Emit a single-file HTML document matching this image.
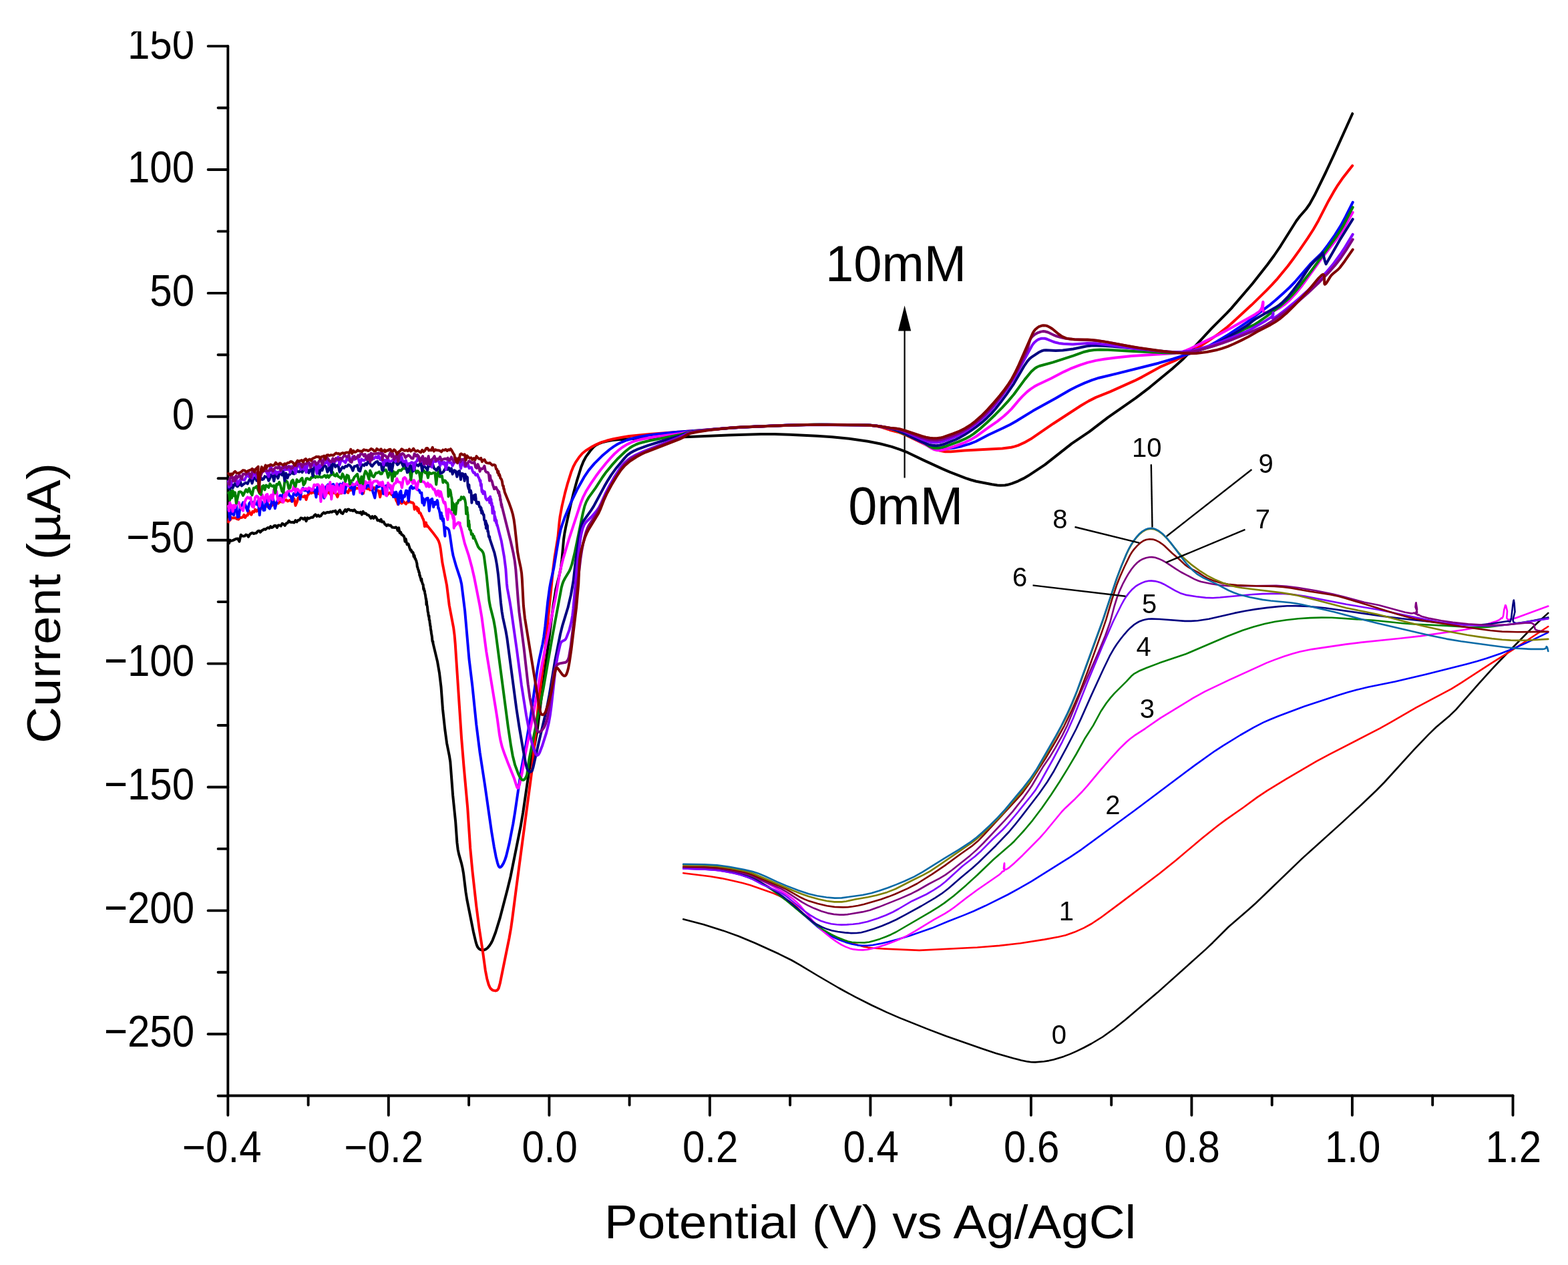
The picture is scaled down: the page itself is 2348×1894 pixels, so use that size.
<!DOCTYPE html>
<html><head><meta charset="utf-8"><title>CV plot</title>
<style>
html,body{margin:0;padding:0;background:#fff;}
body{width:2348px;height:1894px;overflow:hidden;}
svg{display:block;}
text{font-family:"Liberation Sans",Arial,sans-serif;fill:#000;}
.inl{font-family:"DejaVu Sans","Liberation Sans",sans-serif;}
</style></head><body>
<svg width="2348" height="1894" viewBox="0 0 2348 1894" xmlns="http://www.w3.org/2000/svg">
<rect width="2348" height="1894" fill="#fff"/>

<g stroke="#000" stroke-width="3.9" stroke-linecap="round" fill="none"><line x1="341.3" y1="69.1" x2="341.3" y2="1640.5" /><line x1="341.3" y1="1640.5" x2="2265.5" y2="1640.5" /><line x1="326.6" y1="1640.8" x2="341.3" y2="1640.8" /><line x1="311.6" y1="1548.3" x2="341.3" y2="1548.3" /><line x1="326.6" y1="1455.8" x2="341.3" y2="1455.8" /><line x1="311.6" y1="1363.4" x2="341.3" y2="1363.4" /><line x1="326.6" y1="1270.9" x2="341.3" y2="1270.9" /><line x1="311.6" y1="1178.5" x2="341.3" y2="1178.5" /><line x1="326.6" y1="1086.0" x2="341.3" y2="1086.0" /><line x1="311.6" y1="993.6" x2="341.3" y2="993.6" /><line x1="326.6" y1="901.1" x2="341.3" y2="901.1" /><line x1="311.6" y1="808.7" x2="341.3" y2="808.7" /><line x1="326.6" y1="716.2" x2="341.3" y2="716.2" /><line x1="311.6" y1="623.8" x2="341.3" y2="623.8" /><line x1="326.6" y1="531.3" x2="341.3" y2="531.3" /><line x1="311.6" y1="438.9" x2="341.3" y2="438.9" /><line x1="326.6" y1="346.4" x2="341.3" y2="346.4" /><line x1="311.6" y1="254.0" x2="341.3" y2="254.0" /><line x1="326.6" y1="161.5" x2="341.3" y2="161.5" /><line x1="311.6" y1="69.1" x2="341.3" y2="69.1" /><line x1="341.3" y1="1640.5" x2="341.3" y2="1669.7" /><line x1="461.6" y1="1640.5" x2="461.6" y2="1654.5" /><line x1="581.8" y1="1640.5" x2="581.8" y2="1669.7" /><line x1="702.1" y1="1640.5" x2="702.1" y2="1654.5" /><line x1="822.4" y1="1640.5" x2="822.4" y2="1669.7" /><line x1="942.6" y1="1640.5" x2="942.6" y2="1654.5" /><line x1="1062.9" y1="1640.5" x2="1062.9" y2="1669.7" /><line x1="1183.1" y1="1640.5" x2="1183.1" y2="1654.5" /><line x1="1303.4" y1="1640.5" x2="1303.4" y2="1669.7" /><line x1="1423.7" y1="1640.5" x2="1423.7" y2="1654.5" /><line x1="1543.9" y1="1640.5" x2="1543.9" y2="1669.7" /><line x1="1664.2" y1="1640.5" x2="1664.2" y2="1654.5" /><line x1="1784.4" y1="1640.5" x2="1784.4" y2="1669.7" /><line x1="1904.7" y1="1640.5" x2="1904.7" y2="1654.5" /><line x1="2024.9" y1="1640.5" x2="2024.9" y2="1669.7" /><line x1="2145.2" y1="1640.5" x2="2145.2" y2="1654.5" /><line x1="2265.5" y1="1640.5" x2="2265.5" y2="1669.7" /></g>
<text transform="translate(291.0,87.8) scale(1.0,1.124)" text-anchor="end" font-size="60" >150</text><text transform="translate(291.0,272.7) scale(1.0,1.124)" text-anchor="end" font-size="60" >100</text><text transform="translate(291.0,457.6) scale(1.0,1.124)" text-anchor="end" font-size="60" >50</text><text transform="translate(291.0,642.5) scale(1.0,1.124)" text-anchor="end" font-size="60" >0</text><text transform="translate(291.0,827.4) scale(1.0,1.124)" text-anchor="end" font-size="60" >−50</text><text transform="translate(291.0,1012.3) scale(1.0,1.124)" text-anchor="end" font-size="60" >−100</text><text transform="translate(291.0,1197.2) scale(1.0,1.124)" text-anchor="end" font-size="60" >−150</text><text transform="translate(291.0,1382.1) scale(1.0,1.124)" text-anchor="end" font-size="60" >−200</text><text transform="translate(291.0,1567.0) scale(1.0,1.124)" text-anchor="end" font-size="60" >−250</text><text transform="translate(332.3,1739.6) scale(1.0,1.1)" text-anchor="middle" font-size="60" >−0.4</text><text transform="translate(574.8,1739.6) scale(1.0,1.1)" text-anchor="middle" font-size="60" >−0.2</text><text transform="translate(823.1,1739.6) scale(1.0,1.1)" text-anchor="middle" font-size="60" >0.0</text><text transform="translate(1063.7,1739.6) scale(1.0,1.1)" text-anchor="middle" font-size="60" >0.2</text><text transform="translate(1304.2,1739.6) scale(1.0,1.1)" text-anchor="middle" font-size="60" >0.4</text><text transform="translate(1544.7,1739.6) scale(1.0,1.1)" text-anchor="middle" font-size="60" >0.6</text><text transform="translate(1785.2,1739.6) scale(1.0,1.1)" text-anchor="middle" font-size="60" >0.8</text><text transform="translate(2025.7,1739.6) scale(1.0,1.1)" text-anchor="middle" font-size="60" >1.0</text><text transform="translate(2266.3,1739.6) scale(1.0,1.1)" text-anchor="middle" font-size="60" >1.2</text>
<text transform="translate(905.1,1853.6) scale(1.048,1.0)" text-anchor="start" font-size="71.2" >Potential (V) vs Ag/AgCl</text>
<text transform="translate(89.8,1113) rotate(-90) scale(1.0795,1)" font-size="70.5">Current (µA)</text>
<text transform="translate(1236.0,420.9) scale(1.0,1.0)" text-anchor="start" font-size="76" >10mM</text>
<text transform="translate(1270.2,784.9) scale(1.0,1.03)" text-anchor="start" font-size="77.5" >0mM</text>
<line x1="1354.6" y1="490" x2="1354.6" y2="715.5" stroke="#000" stroke-width="2.2"/>
<polygon points="1354.6,457.4 1345,495.4 1364.2,495.4" fill="#000"/>
<g fill="none" stroke-width="2.6" stroke-linejoin="round" stroke-linecap="round"><path d="M1023.2,1376.3L1053.8,1384.3L1082.9,1393.4L1106.1,1401.7L1130.7,1412.0L1166.5,1428.3L1185.1,1437.5L1196.3,1443.9L1224.8,1461.0L1256.5,1479.5L1280.7,1492.7L1305.2,1505.0L1327.3,1515.4L1346.8,1523.9L1390.0,1541.1L1416.6,1551.2L1471.0,1570.3L1491.2,1577.0L1517.5,1584.6L1529.0,1587.4L1538.6,1589.4L1544.3,1590.2L1550.1,1590.4L1563.4,1589.3L1570.6,1588.1L1577.7,1586.5L1592.7,1581.9L1602.6,1578.1L1612.1,1573.9L1623.1,1568.5L1634.4,1562.5L1651.2,1552.5L1668.3,1540.2L1684.3,1527.6L1733.2,1486.1L1805.2,1421.6L1816.2,1411.2L1839.4,1388.0L1869.8,1361.8L1880.7,1352.0L1949.9,1285.4L2009.0,1232.1L2040.8,1202.8L2061.5,1183.0L2072.8,1171.5L2117.7,1122.2L2139.3,1099.6L2150.2,1089.0L2171.0,1071.4L2180.1,1062.6L2214.6,1023.4L2233.6,1002.4L2246.2,989.0L2292.4,941.9L2302.8,932.0L2318.3,917.9" stroke="#000000"/><path d="M1023.2,1307.2L1063.8,1312.3L1080.6,1315.1L1096.5,1318.4L1111.7,1322.0L1123.3,1325.3L1158.3,1337.6L1166.0,1340.9L1174.4,1345.2L1181.7,1349.4L1187.6,1353.4L1193.9,1358.8L1206.1,1371.2L1216.8,1381.1L1228.3,1390.6L1236.6,1396.2L1241.7,1398.9L1248.9,1402.2L1268.5,1409.6L1286.7,1415.6L1293.6,1417.4L1299.5,1418.6L1307.3,1419.5L1325.1,1420.6L1376.7,1422.9L1463.4,1418.5L1496.6,1415.9L1528.2,1412.2L1564.0,1406.6L1584.9,1402.8L1595.8,1400.2L1609.1,1395.6L1623.0,1389.4L1634.7,1383.0L1647.2,1374.7L1676.6,1352.9L1736.1,1308.0L1761.3,1287.7L1799.8,1255.2L1822.6,1237.0L1834.8,1227.9L1861.5,1209.2L1882.4,1193.9L1897.4,1183.8L1925.2,1166.9L1971.7,1139.7L1991.4,1129.2L2066.6,1090.3L2081.8,1081.9L2120.7,1059.3L2173.5,1031.3L2188.8,1021.8L2232.2,993.6L2267.6,971.4L2318.3,938.0" stroke="#ff0000"/><path d="M1023.2,1300.5L1061.7,1301.9L1072.5,1302.8L1084.8,1304.5L1096.7,1306.6L1107.4,1309.2L1118.0,1312.7L1128.1,1316.8L1138.0,1321.7L1148.8,1327.6L1160.2,1334.7L1169.4,1341.2L1183.2,1352.3L1224.6,1388.0L1234.6,1395.7L1241.6,1400.0L1249.1,1403.9L1257.5,1407.6L1266.6,1410.9L1275.5,1413.5L1283.5,1415.1L1291.3,1415.9L1299.1,1415.8L1306.9,1415.0L1318.0,1412.9L1329.9,1410.3L1344.0,1406.6L1361.7,1401.3L1395.5,1389.6L1419.7,1379.5L1443.7,1370.1L1457.9,1364.2L1475.2,1356.3L1509.1,1339.5L1525.7,1330.4L1544.1,1319.8L1602.7,1283.1L1619.5,1271.8L1699.3,1213.3L1789.5,1145.6L1819.4,1124.3L1830.9,1116.8L1857.5,1100.5L1877.4,1089.1L1891.9,1081.6L1901.3,1077.5L1914.8,1072.0L1952.8,1057.7L2003.6,1040.9L2018.2,1036.4L2031.8,1032.8L2048.4,1028.7L2089.2,1020.5L2134.9,1009.7L2196.5,994.2L2212.0,990.0L2225.9,985.8L2246.5,978.8L2267.0,970.8L2285.9,962.4L2317.9,947.2" stroke="#0000ff"/><path d="M1023.2,1300.5L1058.3,1301.7L1069.4,1302.5L1077.8,1303.5L1088.6,1305.3L1101.2,1307.8L1128.1,1313.8L1135.2,1316.1L1147.4,1321.9L1165.4,1331.6L1177.6,1338.9L1186.9,1345.5L1192.4,1350.2L1198.4,1356.2L1217.8,1379.5L1229.4,1391.4L1236.8,1398.0L1244.3,1404.0L1251.8,1409.4L1259.7,1414.3L1265.8,1417.4L1272.3,1419.9L1278.3,1421.4L1285.3,1422.3L1292.2,1422.4L1299.1,1421.7L1307.1,1420.1L1315.9,1417.8L1326.6,1414.2L1339.1,1409.5L1349.4,1405.2L1358.6,1400.8L1370.3,1394.2L1398.2,1377.1L1414.9,1367.8L1422.0,1363.4L1428.6,1358.8L1447.3,1344.2L1463.6,1332.2L1496.2,1309.8L1498.9,1307.4L1501.2,1304.7L1503.3,1304.2L1504.0,1303.0L1504.0,1302.2L1503.1,1300.9L1503.0,1300.0L1503.7,1293.4L1504.1,1292.4L1504.1,1300.0L1504.4,1301.2L1505.1,1301.9L1506.0,1302.0L1507.5,1301.4L1511.4,1298.8L1519.3,1291.9L1531.2,1280.7L1557.2,1254.4L1565.5,1245.0L1589.8,1215.5L1595.4,1209.7L1609.8,1196.2L1620.3,1185.5L1628.4,1176.4L1647.6,1153.3L1662.2,1136.6L1676.6,1120.9L1687.0,1110.7L1692.8,1105.8L1698.3,1101.7L1715.0,1090.8L1737.6,1075.1L1786.2,1045.4L1804.3,1035.4L1841.0,1017.9L1897.0,992.4L1909.3,987.6L1922.8,982.8L1935.5,978.7L1946.4,975.8L1964.6,972.1L2015.4,964.6L2037.6,961.9L2097.0,955.8L2126.9,952.4L2190.3,943.3L2206.1,940.4L2217.3,937.5L2239.5,930.6L2244.8,928.3L2247.0,926.6L2248.2,925.3L2249.4,925.6L2250.5,923.6L2251.2,921.4L2252.3,912.8L2254.2,906.2L2254.8,906.5L2255.3,907.9L2257.0,915.0L2256.3,925.0L2257.1,926.8L2257.9,927.4L2259.6,927.7L2264.0,927.1L2270.8,925.0L2318.3,907.5" stroke="#ff00ff"/><path d="M1023.2,1299.0L1057.1,1300.1L1067.2,1300.8L1076.7,1301.9L1088.6,1303.8L1102.2,1306.6L1114.3,1309.7L1123.6,1312.7L1129.0,1315.0L1134.6,1318.1L1146.7,1325.9L1158.3,1333.9L1175.9,1347.1L1201.3,1368.1L1223.1,1385.3L1233.7,1392.7L1244.6,1399.0L1253.4,1403.2L1263.5,1407.3L1269.9,1409.5L1275.7,1410.7L1283.2,1411.3L1294.4,1411.4L1301.5,1410.5L1309.0,1408.6L1317.5,1405.9L1326.6,1402.5L1334.3,1399.2L1341.7,1395.5L1393.4,1365.4L1405.5,1357.9L1414.0,1352.1L1428.3,1341.2L1446.7,1325.4L1463.3,1310.3L1487.8,1286.8L1513.8,1264.2L1519.1,1259.2L1533.9,1243.0L1546.2,1228.3L1560.2,1209.8L1574.1,1189.8L1586.8,1170.3L1599.2,1150.1L1611.4,1129.5L1624.2,1106.3L1637.1,1086.1L1648.5,1065.0L1656.5,1053.0L1662.8,1044.9L1669.0,1037.8L1686.9,1020.1L1694.1,1012.3L1698.6,1008.6L1705.4,1004.8L1716.7,1000.0L1736.2,992.6L1776.3,979.0L1837.6,952.8L1860.8,943.7L1877.2,938.5L1893.8,934.1L1909.5,930.8L1926.4,928.2L1944.3,926.3L1961.6,925.1L1978.9,924.6L1994.3,924.8L2057.2,928.8L2100.6,933.2L2117.0,934.5L2166.1,936.9L2199.0,939.0L2214.5,939.4L2227.2,938.9L2240.1,937.5L2271.2,933.2L2318.3,926.0" stroke="#008000"/><path d="M1023.2,1299.7L1056.0,1300.6L1074.6,1302.1L1086.8,1303.8L1096.7,1305.6L1106.4,1307.9L1115.1,1310.7L1126.3,1315.0L1138.0,1320.7L1150.6,1327.7L1162.8,1335.5L1171.3,1341.5L1181.6,1349.6L1217.1,1380.0L1223.1,1384.0L1230.8,1388.0L1238.4,1391.1L1245.5,1393.2L1254.6,1395.0L1265.2,1396.4L1274.5,1397.1L1282.5,1397.0L1289.4,1396.2L1296.1,1394.6L1308.4,1390.7L1320.8,1386.2L1331.5,1381.8L1341.9,1377.0L1354.8,1370.2L1379.7,1356.5L1400.3,1344.3L1409.8,1338.2L1420.2,1330.3L1437.7,1314.9L1456.3,1299.4L1465.5,1291.3L1491.2,1266.2L1510.9,1245.5L1518.7,1236.2L1530.1,1221.9L1556.0,1188.2L1568.2,1170.8L1577.4,1155.8L1597.2,1119.2L1611.5,1091.5L1618.3,1076.9L1634.3,1040.9L1652.5,1001.2L1661.7,982.2L1667.6,971.8L1672.5,964.3L1678.0,956.8L1683.6,949.8L1689.0,943.7L1693.3,939.4L1697.7,935.7L1702.5,932.5L1706.8,930.2L1711.5,928.5L1715.6,927.5L1719.8,926.8L1724.8,926.6L1736.3,927.0L1774.2,929.9L1783.5,929.9L1793.8,929.2L1810.3,926.8L1848.7,917.9L1864.6,914.8L1880.5,912.1L1897.5,909.9L1914.4,908.1L1927.4,907.3L1940.5,907.1L1960.9,908.0L1984.1,910.2L2070.5,922.6L2103.9,926.8L2140.1,930.7L2161.1,932.7L2191.9,934.9L2206.8,935.5L2218.8,935.3L2232.3,934.0L2256.4,930.2L2258.2,930.1L2261.2,931.0L2262.4,927.7L2263.2,924.2L2265.4,905.7L2266.4,899.5L2266.8,898.5L2267.6,903.3L2268.5,916.0L2265.9,926.1L2265.6,928.5L2266.0,930.5L2266.5,931.3L2268.2,932.5L2270.6,933.0L2273.5,933.0L2282.5,932.0L2294.6,929.6L2318.3,924.4" stroke="#000080"/><path d="M1023.2,1300.5L1057.1,1301.6L1075.7,1303.2L1087.5,1305.2L1099.1,1307.6L1110.8,1310.6L1119.8,1313.4L1127.3,1316.6L1141.5,1324.4L1160.8,1332.6L1171.1,1337.9L1176.3,1341.2L1181.2,1344.9L1204.1,1363.8L1213.6,1370.4L1222.0,1375.4L1229.0,1378.7L1236.7,1381.3L1244.7,1383.2L1252.8,1384.3L1259.9,1384.6L1268.1,1384.4L1277.2,1383.7L1286.0,1382.7L1298.8,1379.9L1314.9,1374.8L1326.7,1370.3L1337.1,1365.5L1345.3,1361.0L1365.5,1349.2L1387.2,1339.0L1398.1,1332.7L1407.3,1326.7L1415.5,1320.3L1441.3,1296.7L1460.0,1282.3L1469.0,1274.2L1486.4,1256.5L1501.7,1242.0L1509.2,1233.9L1520.9,1220.0L1544.4,1191.0L1550.6,1182.9L1556.2,1173.8L1576.7,1137.0L1590.6,1110.8L1598.9,1093.8L1607.0,1075.4L1628.5,1021.2L1651.0,966.9L1666.9,930.5L1679.0,906.0L1683.3,898.1L1686.5,893.1L1690.7,887.6L1695.6,882.2L1700.2,878.2L1704.6,875.4L1710.1,872.6L1715.0,870.8L1720.0,869.8L1724.1,869.6L1729.3,870.1L1734.3,871.2L1738.2,872.5L1742.9,874.7L1759.4,884.2L1768.6,888.6L1776.6,890.9L1791.5,893.3L1805.4,894.9L1816.1,895.2L1826.9,894.5L1875.9,890.0L1890.5,889.1L1915.0,888.8L1925.2,889.2L1935.4,890.0L1953.3,892.6L2016.0,904.8L2063.6,912.7L2152.3,931.0L2166.2,933.1L2180.5,934.7L2197.0,936.0L2214.5,936.7L2229.1,937.0L2241.1,936.6L2253.5,935.6L2266.8,934.1L2318.3,926.4" stroke="#8000ff"/><path d="M1023.2,1298.3L1057.1,1299.3L1075.7,1300.7L1087.5,1302.3L1099.1,1304.4L1111.7,1307.2L1119.9,1309.4L1127.5,1312.2L1140.5,1318.3L1159.8,1326.2L1169.4,1330.5L1179.1,1336.1L1201.2,1350.9L1209.3,1355.3L1218.7,1359.8L1229.9,1364.2L1239.3,1367.1L1248.6,1368.9L1257.4,1369.6L1263.2,1369.6L1269.1,1369.1L1291.5,1365.4L1302.7,1362.7L1315.9,1358.1L1347.8,1345.4L1365.3,1337.7L1374.4,1333.0L1390.9,1323.5L1407.0,1315.1L1415.7,1309.9L1425.5,1302.7L1452.8,1280.9L1462.2,1272.6L1472.9,1262.0L1504.8,1228.1L1516.4,1215.1L1532.6,1194.6L1539.7,1184.6L1545.4,1176.0L1561.6,1148.6L1572.6,1132.4L1580.3,1119.6L1590.6,1101.4L1598.3,1085.7L1617.4,1039.0L1644.6,976.9L1655.1,951.8L1662.2,932.0L1668.7,907.5L1672.6,895.0L1676.7,884.4L1681.8,873.3L1686.1,865.3L1690.3,858.2L1694.3,852.3L1698.6,846.9L1702.9,842.5L1706.9,839.4L1711.3,836.9L1716.1,835.2L1721.0,834.2L1724.9,834.1L1729.8,834.8L1734.7,836.4L1740.3,838.9L1746.6,842.3L1761.3,852.2L1768.3,856.5L1788.6,867.1L1794.2,869.5L1798.7,871.0L1814.5,874.3L1827.6,876.3L1839.3,877.3L1852.2,877.5L1911.2,876.9L1926.4,877.8L1944.3,880.0L1971.2,884.5L1996.0,889.5L2012.3,893.5L2042.9,901.7L2064.5,906.1L2104.0,916.7L2113.2,918.4L2115.6,918.3L2117.7,917.5L2119.5,919.1L2121.0,918.6L2121.8,917.8L2122.1,916.8L2121.6,914.2L2119.5,908.9L2120.1,903.2L2120.5,902.3L2122.0,912.0L2122.0,913.0L2120.3,917.1L2120.3,918.2L2120.8,919.2L2121.9,920.2L2123.8,921.2L2124.3,920.2L2126.3,921.7L2129.3,923.0L2140.5,925.9L2158.3,929.3L2175.7,931.9L2198.5,934.2L2219.6,935.6L2236.0,936.0L2256.2,935.5L2284.0,932.8L2292.3,932.8L2294.5,933.3L2296.6,934.7L2297.5,936.6L2298.5,941.6L2300.0,943.0L2302.6,943.9L2305.9,944.6L2318.3,946.0" stroke="#800080"/><path d="M1023.2,1297.5L1056.0,1298.0L1074.6,1299.1L1095.0,1301.9L1116.2,1306.3L1126.6,1309.7L1141.5,1316.3L1168.3,1327.0L1177.7,1331.6L1199.2,1343.8L1204.7,1346.4L1211.5,1349.1L1224.6,1353.1L1238.3,1356.3L1249.6,1357.9L1262.2,1358.4L1269.1,1358.2L1276.9,1357.3L1284.6,1356.0L1293.5,1354.0L1319.3,1346.4L1330.4,1342.6L1340.2,1338.8L1359.0,1330.4L1373.3,1323.0L1395.8,1308.9L1415.0,1295.9L1437.6,1279.3L1456.3,1266.1L1464.3,1259.3L1473.5,1249.9L1523.9,1195.3L1531.8,1186.3L1541.4,1173.0L1565.9,1135.1L1582.2,1107.5L1593.6,1086.8L1605.3,1062.8L1616.4,1037.4L1629.0,1004.5L1650.8,943.9L1656.4,927.3L1665.3,897.2L1672.1,876.3L1677.0,863.7L1683.9,848.2L1692.0,831.6L1695.1,826.5L1698.2,822.4L1702.9,817.1L1708.0,812.5L1712.0,809.8L1716.5,808.0L1721.4,807.2L1726.3,807.6L1731.1,809.1L1735.7,811.4L1740.0,814.3L1744.0,817.5L1755.2,828.2L1765.5,837.0L1774.3,845.4L1778.4,848.5L1782.8,851.2L1794.0,856.9L1803.9,863.5L1809.1,866.3L1818.8,870.1L1829.0,872.9L1839.3,874.8L1852.2,876.0L1880.6,877.3L1908.2,877.9L1921.4,878.9L1933.3,880.5L1961.2,885.5L1992.0,890.3L2004.0,892.8L2015.5,895.9L2062.4,910.2L2092.2,919.6L2112.0,925.0L2123.0,927.4L2135.0,929.6L2195.0,939.0L2231.8,944.0L2249.3,945.6L2272.3,946.2L2318.3,945.9" stroke="#800000"/><path d="M1023.2,1295.0L1054.8,1295.8L1073.6,1297.0L1092.8,1299.6L1113.5,1303.7L1120.9,1305.6L1127.5,1307.8L1188.4,1333.8L1199.8,1338.3L1210.5,1341.9L1225.6,1346.3L1238.3,1349.0L1249.6,1350.4L1260.3,1350.4L1267.2,1349.5L1280.8,1346.5L1299.7,1343.2L1312.4,1340.4L1328.4,1335.9L1340.9,1331.0L1366.3,1318.0L1382.8,1309.9L1392.4,1304.6L1404.1,1296.9L1454.6,1262.2L1462.1,1256.4L1469.7,1249.8L1480.5,1239.6L1492.3,1227.9L1503.7,1215.5L1527.7,1187.3L1540.7,1171.6L1545.8,1164.4L1554.1,1151.0L1568.8,1125.3L1584.7,1096.5L1595.1,1076.4L1602.6,1060.6L1610.7,1040.9L1618.5,1020.4L1650.6,931.8L1672.6,865.5L1679.5,847.2L1686.9,829.8L1690.3,822.5L1694.5,815.2L1698.4,809.1L1702.2,804.3L1706.5,799.7L1710.5,796.4L1714.8,793.8L1718.5,792.4L1723.4,791.7L1728.3,792.4L1733.8,794.7L1738.8,798.1L1743.3,802.1L1748.3,807.2L1764.6,827.1L1772.1,835.1L1783.0,844.6L1797.4,855.2L1807.9,861.8L1818.7,867.4L1832.3,873.1L1844.1,877.1L1851.2,878.8L1859.8,880.3L1918.4,887.4L1929.4,889.1L1940.4,891.1L1972.2,898.7L2016.0,910.3L2050.5,917.2L2063.6,920.1L2105.0,931.1L2129.7,937.1L2162.2,944.2L2197.1,950.8L2214.1,953.4L2234.2,956.1L2249.3,957.7L2262.3,958.6L2272.6,958.9L2283.8,958.8L2318.3,956.9" stroke="#808000"/><path d="M1023.2,1293.8L1054.8,1294.3L1073.6,1295.3L1091.8,1297.7L1114.4,1302.0L1127.2,1305.1L1136.3,1308.0L1145.2,1311.7L1163.9,1320.4L1177.4,1326.1L1195.8,1333.2L1210.8,1338.3L1223.4,1341.3L1237.6,1343.5L1250.0,1344.6L1260.4,1344.4L1291.9,1340.0L1304.8,1337.2L1316.3,1333.7L1329.5,1329.2L1342.1,1324.4L1354.5,1319.3L1368.9,1312.6L1381.4,1305.7L1414.2,1285.2L1435.8,1272.2L1453.8,1260.4L1462.1,1254.0L1470.5,1246.8L1482.1,1236.0L1493.7,1224.4L1504.8,1212.3L1532.1,1179.5L1543.7,1164.5L1551.5,1153.1L1580.7,1102.3L1589.3,1086.5L1597.6,1069.7L1605.2,1052.8L1612.9,1033.9L1651.3,928.5L1671.9,866.6L1678.8,848.4L1686.4,830.0L1690.3,821.8L1693.9,815.4L1697.9,809.2L1702.2,803.6L1706.5,799.0L1710.5,795.6L1714.8,793.0L1719.5,791.3L1724.4,790.9L1727.3,791.3L1730.1,792.2L1735.5,795.0L1741.9,800.1L1746.9,805.3L1753.1,812.6L1772.9,839.1L1777.3,844.5L1785.4,853.2L1793.2,859.9L1801.8,865.1L1821.6,874.4L1839.8,884.0L1847.4,887.3L1855.0,889.9L1871.8,894.2L1890.5,897.9L1902.8,899.5L1931.9,902.2L1940.8,903.5L1950.1,905.3L1997.9,916.3L2042.2,928.0L2062.1,932.9L2141.5,951.5L2166.1,956.6L2188.1,960.2L2235.6,966.8L2254.9,969.2L2270.5,970.8L2292.5,971.9L2310.0,971.9L2312.8,971.5L2314.4,970.8L2315.3,970.0L2315.7,968.0L2316.0,968.0L2317.0,969.4L2318.3,975.0" stroke="#0a6aa6"/></g>
<g fill="none" stroke-width="4.0" stroke-linejoin="round" stroke-linecap="round"><path d="M342.0,813.4L343.1,813.2L344.4,808.6L346.0,809.8L347.8,809.4L349.7,808.6L351.7,807.6L353.9,806.7L356.1,806.5L358.4,810.8L360.7,800.7L362.9,802.6L364.6,802.7L366.4,802.6L368.2,800.6L370.1,801.2L372.0,803.7L374.0,800.2L375.9,798.6L377.9,797.8L379.9,799.0L381.9,798.3L383.9,798.2L385.9,795.4L387.9,794.7L389.8,796.8L391.8,794.6L393.7,793.5L395.6,792.2L397.5,792.9L399.4,791.1L401.3,789.9L403.3,791.0L405.2,788.2L407.1,790.0L409.0,789.0L410.9,787.0L412.8,786.9L414.8,790.0L416.7,786.4L418.6,786.4L420.6,787.6L422.6,783.9L424.6,784.9L426.6,786.9L428.6,783.7L430.6,783.0L432.5,779.8L434.5,781.7L436.5,781.9L438.5,781.8L440.5,782.5L442.5,779.1L444.5,781.4L446.5,778.8L448.5,778.8L450.5,775.4L452.5,775.9L454.5,777.5L456.5,775.3L458.5,780.3L460.4,775.4L462.4,776.4L464.4,775.5L466.4,774.6L468.4,774.7L470.4,772.1L472.4,770.3L474.4,773.1L476.4,771.3L478.4,773.2L480.5,772.3L482.6,769.2L484.7,767.4L486.7,768.7L488.8,767.5L490.8,767.0L492.9,767.4L494.8,766.2L496.8,766.8L498.7,765.4L500.5,765.7L502.3,764.7L504.6,769.6L506.8,766.1L509.0,763.7L511.1,768.0L513.1,769.1L515.1,765.8L517.0,763.0L518.9,765.8L520.6,762.8L522.4,762.6L524.4,764.2L526.6,763.9L528.7,764.9L530.6,763.4L532.4,765.5L534.2,767.4L536.1,767.1L538.1,767.9L540.0,766.7L541.8,770.5L543.7,765.9L545.6,768.9L547.6,768.5L549.9,770.9L551.9,771.2L553.6,773.2L555.4,776.0L557.4,773.2L559.4,776.2L561.4,773.0L563.4,774.7L565.4,779.3L567.3,778.7L569.0,780.5L570.6,777.7L572.0,781.6L574.6,781.2L576.3,785.0L577.6,785.4L579.0,787.2L580.9,785.5L582.9,786.7L585.0,786.6L587.1,789.5L589.2,789.7L591.2,790.0L592.8,789.2L594.2,790.6L595.7,794.4L597.1,790.2L598.6,797.9L600.1,796.9L601.4,800.5L602.4,800.4L603.4,801.9L604.4,802.1L605.4,804.3L606.5,810.8L607.6,806.9L608.6,811.5L609.6,815.1L610.6,813.9L611.6,814.5L612.6,818.0L613.7,821.3L614.7,823.7L615.7,823.5L616.7,826.8L617.7,826.4L618.7,827.5L619.6,833.4L620.5,831.5L621.4,836.3L622.1,836.5L622.7,838.6L623.3,839.5L623.8,841.8L624.3,843.3L624.8,848.7L625.3,849.1L625.8,851.7L626.3,853.1L626.8,853.9L627.3,856.9L627.8,857.0L628.3,861.4L628.8,861.5L629.4,864.5L630.0,865.9L630.6,869.2L631.2,866.6L631.8,871.4L632.4,872.7L633.0,875.0L633.6,875.1L634.2,882.2L634.7,880.8L635.3,884.6L635.8,884.4L636.2,887.6L636.6,889.7L636.9,890.6L637.2,892.7L637.6,895.6L637.9,897.5L638.2,896.7L638.5,905.2L638.8,900.1L639.1,904.5L639.5,906.4L639.8,907.6L640.2,911.2L640.5,914.9L640.9,916.8L641.2,917.1L641.5,921.2L641.8,922.2L642.1,923.6L642.4,921.9L642.7,928.1L643.0,928.0L643.3,928.7L643.6,931.7L644.0,934.7L644.3,937.3L644.6,937.4L644.9,940.9L645.3,943.9L645.6,944.9L645.9,948.4L646.3,950.1L646.6,951.7L646.9,953.7L647.3,958.3L647.6,960.6L647.9,959.8L648.2,960.4L648.4,960.8L648.4,962.9L655.0,990.4L657.9,1007.1L660.5,1028.4L663.0,1062.0L666.4,1093.1L669.1,1112.8L672.8,1131.1L674.3,1140.6L678.1,1190.5L682.2,1230.6L684.4,1261.5L685.7,1272.1L687.2,1279.1L691.1,1292.9L692.7,1299.9L694.2,1308.7L697.5,1335.8L699.3,1347.0L708.8,1394.7L712.7,1411.1L713.9,1414.9L715.3,1418.1L716.9,1420.1L718.4,1421.3L721.3,1422.4L723.3,1422.5L725.2,1422.2L727.7,1421.1L729.9,1419.5L732.6,1416.4L735.2,1412.5L737.6,1407.8L742.1,1396.0L748.5,1375.2L759.9,1331.5L764.6,1312.2L779.8,1236.5L783.2,1216.5L792.4,1153.3L794.7,1141.6L801.5,1110.7L804.5,1093.7L828.5,906.4L832.4,882.0L838.3,858.0L839.9,849.7L841.4,837.7L844.1,807.4L845.5,798.0L847.2,789.1L854.6,755.6L858.7,738.7L863.5,721.2L870.2,699.5L873.5,691.3L877.4,683.9L883.9,675.0L888.7,669.5L892.0,666.8L896.4,664.4L901.8,662.4L909.1,660.6L917.3,659.1L925.0,658.2L951.7,656.7L1032.6,653.9L1090.8,651.4L1139.6,650.0L1159.9,650.1L1182.2,650.8L1223.7,652.8L1246.0,654.2L1271.5,656.8L1299.4,660.8L1318.5,664.5L1335.4,668.9L1348.0,673.2L1359.5,677.7L1383.2,689.1L1412.1,702.4L1422.0,706.7L1445.9,715.9L1453.9,718.5L1462.0,720.7L1485.4,725.2L1493.4,726.4L1498.0,726.7L1504.9,726.5L1508.9,725.8L1515.4,723.9L1524.6,720.3L1532.6,716.4L1539.7,712.3L1564.6,695.9L1604.9,664.1L1631.2,646.4L1658.9,625.1L1700.8,595.9L1721.8,579.8L1755.8,551.7L1770.6,538.5L1778.6,530.3L1814.6,491.3L1836.8,469.2L1843.7,461.9L1875.3,425.0L1897.9,396.3L1908.0,382.5L1917.6,368.3L1941.2,330.7L1946.3,324.0L1955.9,313.0L1961.2,305.5L1968.5,292.3L1984.3,260.0L1997.2,232.3L2025.2,170.2" stroke="#000000"/><path d="M342.0,781.5L343.1,776.6L344.6,778.8L346.2,775.1L348.1,775.4L350.2,775.5L352.4,775.2L354.6,776.9L357.0,777.7L359.4,774.7L361.7,775.0L363.7,774.1L365.4,770.9L367.1,775.0L368.9,772.0L370.8,771.5L372.6,764.4L374.5,769.0L376.4,770.7L378.3,765.7L380.3,766.8L382.2,762.8L384.2,765.6L386.1,763.6L388.0,761.1L389.9,762.7L391.8,758.4L393.7,760.6L395.6,761.4L397.5,758.1L399.4,758.2L401.3,755.9L403.3,756.8L405.2,755.5L407.1,756.9L409.0,754.3L410.9,752.5L412.8,753.7L414.8,752.8L416.7,753.6L418.6,751.5L420.6,751.0L422.6,751.7L424.6,749.8L426.6,749.1L428.6,748.3L430.6,750.4L432.5,749.6L434.5,748.7L436.5,750.6L438.5,748.4L440.5,746.8L442.5,756.9L444.5,752.1L446.5,745.4L448.5,743.6L450.5,743.5L452.5,743.5L454.5,744.0L456.5,742.3L458.5,748.2L460.4,741.6L462.4,739.8L464.4,736.0L466.4,738.4L468.4,736.7L470.4,737.7L472.4,738.3L474.4,738.9L476.5,738.8L478.5,739.8L480.6,740.6L482.7,737.3L484.7,738.0L486.8,738.6L488.9,738.6L490.9,737.6L493.0,737.7L495.1,740.5L497.1,739.5L499.2,737.7L501.3,738.4L503.3,739.3L505.3,744.1L507.3,738.1L509.3,738.6L511.3,738.5L513.3,737.7L515.3,734.7L517.3,735.6L519.2,736.0L521.2,737.9L523.2,732.2L525.2,734.2L527.2,731.3L529.2,733.6L531.2,732.9L533.3,730.7L535.4,731.0L537.6,731.0L539.7,734.2L541.8,732.0L543.9,738.8L546.0,729.7L548.1,730.7L550.2,732.0L552.2,731.7L554.2,733.6L556.1,732.3L558.0,731.5L560.3,730.2L562.5,733.8L564.8,734.1L567.0,734.7L569.2,744.2L571.2,734.7L573.2,735.6L575.1,734.7L576.9,737.5L578.5,736.4L580.0,740.8L583.1,737.9L585.1,738.8L586.6,740.8L588.4,738.7L589.7,743.3L590.9,744.4L592.1,745.5L593.3,749.2L594.6,751.4L596.0,755.3L597.6,749.5L599.5,752.4L601.6,753.7L603.7,750.5L605.8,752.7L607.9,754.6L609.9,751.3L611.9,752.0L614.0,751.2L616.0,752.5L618.0,752.5L619.6,754.5L620.7,762.8L621.9,758.8L623.0,759.0L624.2,759.4L625.3,764.8L626.5,761.3L627.6,767.9L628.7,767.5L629.7,768.4L630.8,771.3L631.9,773.2L632.9,775.9L633.9,777.6L634.9,781.2L635.9,788.3L636.9,782.6L638.0,782.5L638.6,787.9L638.6,785.5L647.8,796.9L654.3,805.6L656.8,810.0L658.4,814.9L659.7,821.5L662.4,842.4L669.1,876.7L672.8,906.5L679.2,940.2L680.6,951.1L681.7,963.6L691.0,1104.4L694.5,1147.0L700.2,1209.5L704.2,1269.9L707.5,1304.9L713.3,1356.8L717.8,1391.4L722.7,1423.0L726.8,1452.8L729.2,1465.2L731.7,1474.1L733.4,1478.0L734.7,1480.1L736.9,1482.1L738.8,1482.9L741.7,1483.4L743.6,1483.1L745.2,1482.0L746.7,1479.6L748.9,1471.7L762.5,1404.6L765.1,1390.0L767.3,1374.4L772.7,1332.4L797.2,1148.4L806.3,1052.0L816.6,968.1L828.2,852.6L830.6,833.8L835.4,804.6L837.6,781.6L838.7,772.8L841.6,757.4L846.2,737.6L850.1,723.3L855.5,706.2L858.5,698.8L862.0,692.1L867.0,684.8L872.1,678.8L877.1,674.8L885.2,669.6L892.8,665.6L900.7,662.2L908.4,659.8L918.5,657.3L931.7,654.7L942.1,653.0L970.6,650.3L1095.3,640.5L1136.8,638.4L1202.5,636.0L1230.3,635.8L1290.3,636.1L1303.4,636.7L1312.9,638.0L1320.5,639.9L1332.3,643.7L1344.0,646.7L1349.7,648.6L1358.0,652.2L1388.6,666.9L1401.5,672.6L1408.0,674.9L1415.2,676.2L1423.6,676.2L1444.5,674.5L1500.8,671.6L1514.4,669.7L1519.0,668.6L1524.6,666.8L1533.9,662.7L1543.5,657.3L1577.3,634.2L1618.7,607.3L1629.9,600.6L1640.7,595.1L1662.0,586.6L1698.7,570.2L1709.9,564.6L1736.8,549.7L1761.6,538.8L1770.7,534.3L1787.3,524.7L1809.6,510.4L1824.4,500.1L1836.6,490.7L1847.1,481.4L1874.2,456.6L1896.4,434.9L1904.6,426.4L1912.9,417.3L1928.4,398.5L1936.8,387.3L1946.4,373.9L1958.4,356.4L1966.7,343.5L1974.3,330.2L1989.2,301.2L1997.0,287.4L2003.2,277.3L2011.1,265.9L2025.2,248.0" stroke="#ff0000"/><path d="M342.0,763.4L343.0,766.1L344.2,778.1L345.5,761.6L347.0,762.7L348.5,769.7L350.2,771.2L351.9,761.1L353.8,756.0L355.7,774.2L357.7,773.7L359.7,757.4L361.8,757.0L364.0,752.4L366.2,753.3L368.4,759.0L370.7,765.3L373.0,754.3L375.3,751.2L377.5,755.3L379.8,751.6L382.1,754.3L384.3,755.3L386.5,749.5L388.7,771.2L390.8,750.4L392.6,752.8L394.5,763.9L396.4,763.7L398.3,747.9L400.2,752.2L402.1,760.0L404.0,761.6L405.9,756.7L407.9,744.1L409.8,750.7L411.8,761.2L413.8,753.9L415.7,748.7L417.7,746.3L419.7,741.5L421.7,749.3L423.7,740.1L425.7,743.4L427.7,738.9L429.7,740.5L431.7,737.7L433.7,742.5L435.6,743.4L437.6,750.7L439.6,739.1L441.6,738.9L443.6,742.0L445.5,739.6L447.5,735.5L449.5,747.6L451.5,734.1L453.5,730.8L455.5,734.3L457.5,734.4L459.4,732.9L461.4,737.2L463.4,734.3L465.4,733.2L467.4,732.7L469.4,734.5L471.4,733.4L473.4,744.5L475.4,729.1L477.4,735.2L479.4,731.7L481.4,732.2L483.4,740.6L485.4,745.7L487.4,729.9L489.4,727.4L491.3,725.5L493.3,734.2L495.3,728.3L497.3,725.6L499.3,725.0L501.3,734.6L503.3,731.6L505.4,724.8L507.5,731.9L509.6,724.6L511.8,728.2L514.0,723.0L516.2,738.3L518.4,727.6L520.6,726.4L522.9,725.4L525.1,730.8L527.3,723.7L529.5,740.1L531.7,726.5L533.9,723.7L536.0,725.9L538.2,725.3L540.2,728.0L542.3,739.5L544.3,724.3L546.2,728.7L548.1,730.6L549.9,726.9L551.7,726.5L553.4,728.7L555.0,727.5L556.5,724.4L558.0,735.2L561.3,745.5L564.2,727.6L566.6,729.1L568.8,727.8L570.7,724.0L572.4,728.9L574.0,739.5L575.5,728.0L576.9,736.0L578.4,727.1L580.0,727.4L581.8,725.5L583.5,727.1L585.0,732.0L586.4,729.4L587.8,736.6L589.1,744.1L590.4,737.4L591.8,743.9L593.2,736.6L594.8,741.6L596.7,754.9L598.5,737.7L600.3,735.1L602.1,751.2L604.0,742.0L605.9,743.7L607.9,734.6L609.8,734.9L611.8,750.5L613.8,730.7L615.9,727.9L618.0,731.6L620.0,730.2L621.9,730.4L623.8,729.7L625.4,733.5L626.7,733.5L628.0,734.3L629.1,737.7L630.2,738.2L631.3,737.8L632.4,752.9L633.7,746.3L635.0,756.6L636.7,749.1L638.5,746.4L640.6,745.7L642.8,765.0L645.0,748.3L647.1,746.9L649.1,759.3L650.9,751.9L652.5,755.2L653.7,751.1L654.7,749.1L655.6,752.4L656.3,761.0L656.9,760.5L657.5,762.9L658.1,765.6L658.8,768.7L659.5,773.5L660.1,776.5L660.8,767.8L661.4,775.5L662.1,772.8L662.7,779.4L663.4,780.4L664.0,776.8L664.6,785.5L665.2,790.8L665.8,798.8L666.4,802.7L666.4,789.6L667.7,789.8L670.7,791.4L671.7,792.8L672.4,794.3L673.8,801.6L677.0,823.7L678.6,832.0L683.2,848.2L689.3,866.5L691.2,874.7L696.2,915.1L702.5,987.1L707.4,1027.4L713.3,1085.0L718.6,1126.8L726.1,1175.5L736.1,1245.2L739.8,1267.8L742.7,1282.9L745.0,1292.1L746.2,1295.7L747.2,1297.5L748.2,1298.4L749.3,1298.4L750.4,1297.8L751.6,1296.4L753.9,1292.6L756.1,1287.5L758.1,1281.5L762.5,1263.3L768.3,1233.6L771.1,1216.5L780.6,1151.8L786.9,1118.2L794.9,1070.7L804.8,1001.5L807.3,987.9L812.4,964.6L814.3,953.8L816.4,937.4L820.2,901.3L822.9,881.2L824.7,871.2L829.3,850.2L836.0,809.9L839.5,793.1L841.9,785.3L845.4,775.3L854.5,753.4L864.8,731.9L874.6,714.4L881.7,703.9L890.2,693.9L901.3,682.8L912.9,673.0L919.3,668.4L925.2,664.8L931.5,661.8L938.6,659.0L947.1,656.5L957.5,654.0L967.3,652.2L979.5,650.4L1006.9,647.4L1036.9,645.3L1095.9,640.5L1161.9,637.3L1206.5,636.0L1238.6,635.8L1292.2,636.4L1308.2,637.1L1321.6,638.9L1341.7,643.0L1348.5,645.1L1359.2,650.1L1395.2,668.6L1401.5,670.9L1407.3,672.0L1411.2,672.3L1416.2,672.1L1427.6,670.8L1439.7,668.2L1451.9,664.7L1461.2,661.0L1479.8,651.2L1502.3,640.8L1512.6,635.7L1522.3,630.2L1546.9,615.1L1580.5,596.6L1602.5,583.7L1612.4,578.7L1623.7,573.6L1635.1,569.1L1645.8,565.7L1672.3,559.4L1734.8,543.7L1756.3,537.5L1788.0,527.4L1799.4,523.1L1809.4,518.4L1821.9,511.4L1840.6,500.1L1868.1,481.9L1880.5,472.3L1900.7,457.2L1910.2,449.3L1921.5,439.2L1931.4,430.0L1939.2,422.0L1961.8,395.8L1978.1,380.0L1982.8,374.3L1988.5,366.7L1998.9,351.8L2007.8,337.6L2014.9,324.5L2025.7,302.8" stroke="#0000ff"/><path d="M342.0,757.7L343.0,765.1L344.2,752.4L345.5,759.8L347.0,756.7L348.5,765.8L350.2,756.4L351.9,760.2L353.8,754.6L355.7,751.9L357.7,752.3L359.7,760.0L361.8,761.4L364.0,764.6L366.2,752.4L368.4,747.3L370.7,744.4L373.0,746.1L375.3,744.8L377.5,758.1L379.8,759.6L382.1,745.1L384.3,742.5L386.5,744.1L388.7,757.9L390.8,746.0L392.7,740.6L394.6,746.0L396.5,751.7L398.4,741.2L400.3,740.0L402.3,750.7L404.2,744.2L406.2,741.1L408.2,748.2L410.2,732.9L412.2,739.2L414.2,735.8L416.2,749.7L418.2,745.8L420.2,745.7L422.3,750.8L424.3,751.8L426.3,737.5L428.3,743.6L430.4,736.0L432.4,735.2L434.4,735.0L436.5,735.4L438.5,733.8L440.5,727.2L442.5,737.1L444.5,732.2L446.5,732.9L448.5,735.8L450.5,737.7L452.5,731.7L454.5,733.1L456.5,731.7L458.5,731.5L460.4,733.2L462.4,730.3L464.4,731.3L466.4,734.3L468.4,733.6L470.4,725.8L472.4,727.0L474.4,725.5L476.4,725.5L478.4,728.3L480.4,751.0L482.4,725.7L484.4,728.0L486.4,744.2L488.4,740.6L490.3,727.1L492.3,733.6L494.3,721.9L496.3,747.4L498.3,727.7L500.3,729.3L502.3,738.1L504.3,724.2L506.4,731.1L508.6,738.3L510.7,726.1L512.9,738.2L515.1,723.2L517.3,725.2L519.5,725.3L521.8,727.9L524.0,726.6L526.2,724.1L528.4,726.3L530.6,725.4L532.8,724.9L535.0,721.4L537.1,723.7L539.2,737.7L541.3,725.7L543.3,735.1L545.2,733.0L547.2,720.9L549.0,723.2L550.8,722.9L552.5,722.6L554.2,718.9L555.8,731.8L557.3,724.1L559.7,720.8L562.7,720.2L565.3,720.4L567.5,725.8L569.5,722.4L571.2,727.2L572.7,721.5L574.2,727.8L575.7,728.7L577.3,741.1L579.1,742.3L581.0,723.1L582.9,727.3L584.8,726.5L586.7,738.3L588.6,728.1L590.5,723.9L592.4,723.4L594.3,716.5L596.2,721.5L598.1,721.9L600.0,722.6L601.9,730.1L603.9,716.6L606.0,714.9L608.0,717.0L610.1,724.6L612.1,722.7L614.1,717.7L616.1,718.8L618.1,723.9L620.0,719.1L621.8,722.8L624.1,732.9L626.4,721.5L628.7,719.3L630.8,719.4L632.9,721.3L634.9,721.6L636.8,723.9L638.6,728.5L640.6,723.1L642.5,728.9L644.3,725.7L645.9,727.6L647.4,729.9L649.0,732.8L650.6,732.3L652.2,738.3L653.7,741.8L655.2,734.9L656.6,734.8L658.1,743.2L659.0,736.1L659.9,736.2L660.8,739.6L661.6,743.7L662.5,745.7L663.4,749.1L664.4,752.5L665.4,753.6L666.4,751.9L667.6,758.9L669.0,771.9L670.4,778.1L671.9,762.2L673.3,764.1L674.7,764.8L676.0,769.3L677.1,769.7L678.0,773.9L678.7,776.9L679.3,771.1L679.7,790.7L680.1,775.7L680.4,779.5L680.8,786.0L681.2,787.7L681.8,786.3L683.9,784.6L686.3,782.2L688.7,783.0L688.7,785.5L688.4,786.2L689.3,787.5L690.4,790.8L695.8,813.4L702.0,832.2L706.4,848.4L710.3,865.3L718.4,906.3L721.4,924.0L728.2,975.2L741.9,1058.5L744.8,1076.8L748.0,1100.4L749.7,1109.6L752.0,1118.7L755.2,1128.0L761.3,1144.1L769.9,1165.3L774.0,1178.2L774.6,1179.4L775.5,1180.0L776.7,1178.6L778.0,1174.6L781.8,1156.8L786.8,1128.4L800.0,1062.3L811.4,995.5L831.9,894.9L838.9,854.2L843.3,836.6L851.9,807.4L869.5,753.6L873.4,743.8L878.1,734.7L885.4,723.1L892.1,713.3L898.4,704.8L907.5,693.5L914.6,685.4L920.2,679.5L926.3,674.0L932.7,669.2L938.5,665.6L945.6,662.2L952.8,659.7L961.4,657.5L981.3,654.0L1017.8,649.3L1031.6,646.8L1044.2,645.2L1085.5,641.3L1119.3,639.2L1192.3,636.3L1214.8,635.9L1241.6,635.9L1298.9,636.5L1311.7,637.5L1323.5,639.5L1341.4,643.7L1350.5,647.2L1378.4,661.2L1384.0,664.3L1394.6,671.1L1399.8,673.4L1403.5,674.2L1408.3,674.3L1412.2,673.6L1418.3,671.9L1433.9,666.7L1444.6,662.5L1453.9,658.1L1461.2,653.8L1479.4,640.6L1493.5,630.9L1503.6,622.8L1509.7,617.2L1514.8,612.1L1526.2,598.6L1531.0,593.4L1537.5,587.1L1543.1,582.6L1548.4,579.1L1553.5,576.3L1573.6,566.8L1593.2,556.6L1602.6,552.2L1617.0,546.6L1628.4,542.9L1640.8,539.9L1653.2,537.7L1670.7,535.4L1694.6,532.9L1757.6,529.1L1764.2,528.2L1769.9,526.8L1776.4,524.6L1782.8,521.7L1825.9,500.5L1841.2,492.3L1879.4,470.7L1885.7,466.3L1888.0,463.6L1889.8,459.8L1891.3,452.0L1891.6,452.9L1891.1,459.9L1891.2,463.9L1892.2,467.0L1893.5,468.0L1896.9,468.2L1902.7,467.0L1909.3,464.5L1915.9,461.2L1923.6,455.9L1931.2,449.2L1939.8,439.9L1948.7,429.0L1980.9,384.4L2000.1,360.0L2005.6,352.4L2013.4,340.1L2025.7,318.0" stroke="#ff00ff"/><path d="M342.0,738.0L343.0,737.8L344.2,749.1L345.5,734.3L347.0,745.5L348.5,734.8L350.2,742.4L351.9,737.3L353.8,753.5L355.7,745.6L357.7,736.7L359.7,736.2L361.8,737.0L364.0,741.9L366.2,737.3L368.4,733.0L370.7,736.7L373.0,731.2L375.3,737.5L377.5,741.3L379.8,730.7L382.1,730.2L384.3,728.1L386.5,733.5L388.7,738.7L390.8,740.5L392.7,728.2L394.6,727.1L396.5,733.4L398.4,726.6L400.3,727.7L402.3,729.9L404.2,724.3L406.2,727.1L408.2,728.1L410.2,727.1L412.2,738.0L414.2,725.1L416.2,725.4L418.2,721.9L420.2,727.4L422.3,735.5L424.3,737.3L426.3,721.6L428.3,719.8L430.4,722.0L432.4,731.4L434.4,730.5L436.5,720.7L438.5,718.6L440.5,725.3L442.5,728.5L444.5,718.1L446.5,721.2L448.5,721.0L450.5,717.7L452.5,715.8L454.5,726.2L456.5,723.6L458.5,716.6L460.4,716.3L462.4,717.5L464.4,718.0L466.4,714.4L468.4,714.7L470.4,712.3L472.4,715.0L474.4,713.4L476.4,714.4L478.4,713.1L480.4,714.5L482.4,714.5L484.4,713.1L486.4,711.8L488.4,714.8L490.3,711.7L492.3,714.9L494.3,711.6L496.3,710.9L498.3,707.0L500.3,711.7L502.3,712.7L504.3,709.1L506.4,713.3L508.6,714.6L510.7,716.3L512.9,709.3L515.1,713.9L517.3,720.9L519.5,711.4L521.8,712.6L524.0,724.7L526.2,719.6L528.4,719.1L530.6,714.3L532.8,712.1L535.0,709.8L537.1,718.9L539.2,723.2L541.3,713.6L543.3,724.2L545.2,711.7L547.2,705.3L549.0,707.6L550.8,712.0L552.5,717.5L554.2,704.6L555.8,707.8L557.3,712.8L559.7,714.1L562.8,708.3L565.4,707.9L567.8,706.4L569.8,709.6L571.6,709.6L573.2,706.2L574.8,704.5L576.2,704.6L577.7,703.4L579.2,706.2L581.2,714.9L583.5,707.9L585.6,704.5L587.4,720.2L589.3,706.0L591.1,713.1L592.9,707.3L594.8,708.7L596.7,704.4L598.6,704.0L600.4,704.7L602.3,702.5L604.2,700.6L606.0,701.6L607.9,699.5L609.8,702.4L611.7,704.2L613.5,703.5L615.4,718.3L617.3,702.7L619.4,702.0L621.8,704.2L623.6,708.3L625.6,705.1L627.8,707.3L630.0,721.2L632.2,705.9L634.5,704.4L636.7,708.1L638.8,706.3L640.9,715.2L642.7,707.4L645.1,709.3L647.3,708.7L649.4,707.9L651.4,708.0L653.2,725.4L655.0,709.5L656.7,706.4L658.6,713.8L660.3,713.4L661.9,712.7L663.4,722.5L664.9,719.5L666.4,719.4L667.3,720.4L668.1,722.6L669.0,722.4L669.8,722.9L670.7,725.5L671.5,743.4L672.3,732.5L673.0,735.9L673.8,733.5L674.5,735.3L675.1,738.5L675.7,742.6L676.3,745.1L676.7,747.9L677.2,763.2L677.7,752.1L678.1,753.8L678.7,757.0L679.3,754.4L680.0,767.6L681.0,758.4L682.2,769.9L683.6,753.6L685.1,753.5L686.6,749.3L688.1,748.4L689.6,748.5L690.9,744.1L692.1,746.0L693.3,746.5L694.4,744.2L695.3,745.6L696.3,748.6L697.2,753.5L698.1,769.3L698.7,763.3L699.0,760.4L699.4,759.7L699.7,768.0L700.0,766.8L700.3,769.6L700.6,770.9L700.9,781.1L701.2,787.9L701.5,779.5L701.8,782.4L702.1,779.7L702.4,784.5L702.8,785.0L703.1,792.3L703.4,792.6L703.7,793.1L704.1,793.6L705.0,794.2L705.9,800.2L706.8,799.2L707.8,799.6L708.7,805.9L709.7,802.6L710.6,806.4L711.0,806.4L711.0,806.4L715.9,818.5L717.6,820.9L721.3,824.2L723.1,826.8L724.1,829.4L725.0,833.9L728.6,861.6L732.5,899.6L734.1,908.2L739.1,927.9L741.5,941.2L760.8,1088.1L765.1,1116.7L767.7,1131.4L771.2,1145.4L776.1,1158.5L778.2,1162.8L780.2,1166.1L781.8,1167.5L783.2,1167.9L784.0,1167.7L785.6,1166.7L787.0,1164.8L788.4,1161.8L789.3,1158.7L792.4,1136.7L813.5,1031.7L827.2,952.7L840.6,880.3L842.1,874.7L843.7,870.3L845.9,866.0L852.6,855.0L854.7,850.0L856.5,844.5L860.5,828.3L872.7,769.0L875.4,757.9L877.9,751.4L881.3,745.2L891.8,730.7L902.2,714.5L907.8,706.7L917.0,695.6L925.6,686.2L936.0,676.3L942.9,670.7L947.3,668.0L952.1,665.7L956.6,663.9L962.3,662.3L972.6,659.9L1017.5,651.0L1022.1,649.9L1030.2,647.3L1040.1,645.6L1074.4,642.2L1109.1,639.7L1179.1,636.7L1218.9,635.8L1293.2,636.3L1307.1,637.1L1318.5,638.5L1331.4,641.2L1341.4,644.2L1378.4,660.3L1384.2,663.4L1392.1,668.5L1396.5,670.5L1400.2,671.1L1404.8,671.0L1410.5,669.9L1416.5,668.1L1435.8,661.2L1447.2,656.1L1452.9,652.9L1457.9,649.6L1468.6,641.1L1477.9,632.7L1490.5,620.7L1500.6,610.4L1509.6,600.6L1518.2,590.5L1534.6,568.1L1544.4,556.3L1549.8,551.5L1553.0,549.5L1556.5,548.0L1576.3,542.6L1607.2,532.6L1623.9,526.7L1631.3,525.0L1638.4,524.1L1647.6,523.6L1659.0,523.8L1697.3,526.0L1739.8,528.0L1754.0,528.4L1763.6,528.2L1772.4,527.6L1782.0,526.5L1790.9,525.0L1798.4,523.4L1806.9,521.0L1815.4,518.1L1823.0,515.1L1836.8,508.1L1864.8,492.1L1877.5,486.7L1884.6,482.1L1897.0,473.4L1916.6,458.4L1930.3,446.4L1935.6,440.9L1942.3,433.2L1958.7,412.1L2002.0,353.0L2007.3,344.9L2011.8,337.2L2025.7,310.4" stroke="#008000"/><path d="M342.0,730.9L343.0,724.9L344.2,732.7L345.5,728.7L347.0,725.2L348.5,730.8L350.2,726.9L351.9,724.1L353.8,727.3L355.7,728.5L357.7,726.2L359.7,720.7L361.8,727.4L364.0,725.5L366.2,723.8L368.4,722.7L370.7,724.3L373.0,719.4L375.3,716.1L377.5,723.6L379.8,716.2L382.1,714.9L384.3,719.7L386.5,717.2L388.7,715.4L390.8,715.2L392.7,718.1L394.6,717.4L396.5,713.2L398.4,714.3L400.3,713.7L402.3,719.8L404.2,715.9L406.2,710.7L408.2,711.3L410.2,720.3L412.2,711.5L414.2,708.7L416.2,716.1L418.2,709.9L420.2,705.8L422.3,711.4L424.3,705.7L426.3,720.0L428.3,708.6L430.4,715.8L432.4,710.6L434.4,710.3L436.5,702.1L438.5,709.0L440.5,709.5L442.5,704.3L444.5,705.0L446.5,706.2L448.5,706.4L450.5,703.3L452.5,707.2L454.5,703.5L456.5,702.0L458.5,705.7L460.4,703.6L462.4,708.0L464.4,703.2L466.4,701.5L468.4,712.6L470.4,700.2L472.4,699.7L474.4,699.6L476.4,705.3L478.4,710.0L480.4,699.3L482.4,704.3L484.4,698.1L486.4,697.3L488.4,698.9L490.3,706.8L492.3,703.4L494.3,695.6L496.3,708.3L498.3,693.9L500.3,693.8L502.3,699.2L504.3,697.2L506.4,696.3L508.6,706.6L510.7,702.7L512.9,699.3L515.1,700.9L517.3,697.9L519.5,698.6L521.8,695.7L524.0,696.7L526.2,699.7L528.4,704.7L530.6,698.2L532.8,697.9L535.0,696.6L537.1,704.4L539.2,705.4L541.3,697.2L543.3,695.7L545.2,697.1L547.2,694.0L549.0,696.0L550.8,691.3L552.5,693.2L554.2,694.0L555.8,697.2L557.3,698.1L559.7,694.8L562.7,691.9L565.2,690.9L567.3,695.8L569.1,693.9L570.7,694.7L572.2,703.9L573.7,704.2L575.3,695.1L577.0,694.1L578.9,696.7L580.9,689.5L582.8,703.5L584.8,694.3L586.8,705.5L588.9,693.3L590.9,689.5L593.1,692.6L595.2,695.9L597.3,694.0L599.5,688.9L601.6,693.2L603.7,697.8L605.8,692.4L607.9,698.7L609.9,707.5L611.9,705.6L614.0,696.4L616.1,698.5L618.2,705.9L620.2,703.3L622.3,694.5L624.3,696.2L626.4,697.6L628.3,695.0L630.3,693.6L632.2,704.9L634.0,697.0L635.8,698.8L638.1,700.8L640.2,704.0L642.3,692.0L644.3,698.0L646.2,698.4L648.1,695.0L650.0,701.0L651.9,702.8L653.8,704.5L655.7,700.4L657.7,699.0L659.7,708.9L661.8,708.0L663.9,706.4L666.0,702.9L668.1,699.4L670.1,703.0L672.1,700.3L674.1,705.5L675.9,701.4L677.6,709.9L680.0,704.2L682.2,705.1L684.3,713.7L686.3,706.0L688.1,705.0L689.9,718.1L691.5,709.0L693.0,709.2L694.4,711.2L695.6,720.0L696.8,710.1L697.9,715.7L698.9,713.5L699.9,714.7L700.6,727.5L701.3,730.1L701.9,732.1L702.4,726.0L703.0,736.9L703.5,736.8L704.1,736.2L704.8,734.4L705.5,737.0L706.4,752.8L707.4,742.3L708.5,746.4L709.6,741.8L710.8,748.2L711.9,740.5L712.9,749.1L713.8,753.7L715.4,754.6L716.7,751.8L718.0,759.0L719.4,758.8L720.0,764.1L720.6,760.6L721.2,768.3L721.8,764.5L722.5,766.3L723.1,768.5L723.8,771.1L724.5,770.7L725.1,778.4L725.8,779.0L726.4,780.8L726.9,785.5L727.4,779.9L727.9,791.0L728.4,783.2L728.9,786.5L729.4,786.0L729.9,787.3L730.3,795.6L730.8,795.0L731.3,797.9L731.8,803.3L732.3,804.0L732.8,803.1L733.3,804.9L733.3,806.4L740.3,827.3L742.3,836.0L744.1,846.0L746.0,860.3L750.0,902.7L751.6,916.0L753.1,924.8L757.4,944.7L759.4,956.2L773.4,1061.5L777.7,1089.4L783.2,1121.7L787.1,1142.5L789.0,1150.3L790.5,1153.3L791.9,1154.7L793.4,1155.6L795.0,1155.5L796.8,1153.8L798.4,1148.8L807.0,1110.6L818.6,1061.4L822.6,1040.4L831.1,989.3L839.0,949.5L842.3,936.3L850.5,909.5L855.0,890.4L858.7,869.2L861.5,843.8L866.2,810.6L868.9,794.4L870.9,786.4L872.2,782.9L873.5,780.3L885.4,763.6L888.8,758.4L904.8,728.6L910.6,718.6L915.5,710.9L922.9,700.7L935.5,685.6L939.5,681.4L943.7,678.3L947.8,675.9L953.5,673.2L969.2,667.4L986.0,662.0L1019.7,652.1L1030.0,648.1L1036.3,646.7L1063.7,643.3L1100.0,640.2L1126.4,638.8L1191.3,636.3L1226.2,635.8L1283.1,636.2L1300.7,636.6L1312.9,637.7L1325.4,639.9L1339.2,643.1L1342.9,644.2L1353.5,648.6L1379.2,661.2L1386.2,664.0L1391.6,665.9L1396.3,666.8L1401.8,667.2L1407.0,666.8L1412.7,665.3L1431.1,658.1L1437.2,655.1L1444.2,651.1L1453.0,645.4L1462.5,638.6L1471.0,631.9L1477.9,625.7L1484.7,618.9L1491.0,611.7L1498.6,602.1L1507.3,590.4L1518.3,574.3L1533.3,548.5L1538.5,540.8L1541.8,537.1L1544.1,535.2L1555.1,527.8L1559.7,525.5L1562.6,524.6L1566.4,524.2L1580.9,525.1L1591.4,524.5L1607.0,522.5L1627.5,518.3L1634.6,517.6L1642.4,517.4L1652.2,517.8L1666.2,518.8L1711.6,522.9L1748.0,526.6L1759.8,527.2L1770.3,527.0L1778.8,526.2L1786.0,525.2L1793.7,523.6L1801.2,521.5L1809.7,518.7L1819.2,515.0L1833.5,508.0L1847.0,500.1L1866.6,487.9L1871.3,484.6L1876.9,479.8L1881.1,476.9L1909.7,460.6L1915.7,456.6L1920.4,452.7L1928.5,444.5L1936.8,434.2L1946.5,421.3L1958.0,403.8L1963.1,396.8L1968.9,390.5L1979.0,381.0L1980.8,378.3L1984.0,391.0L1985.6,395.4L2006.2,359.4L2025.7,328.1" stroke="#000080"/><path d="M342.0,720.7L343.0,729.3L344.2,720.1L345.5,727.3L347.0,721.0L348.5,720.0L350.2,720.4L351.9,719.9L353.8,715.9L355.7,725.5L357.7,722.2L359.7,717.9L361.8,717.3L364.0,718.4L366.2,718.8L368.4,713.9L370.7,711.7L373.0,714.0L375.3,711.1L377.5,716.1L379.8,708.6L382.1,709.4L384.3,714.8L386.5,716.5L388.7,718.8L390.8,711.2L392.7,703.8L394.6,705.8L396.5,704.9L398.4,705.4L400.3,709.5L402.3,713.6L404.2,701.4L406.2,699.5L408.2,709.1L410.2,707.5L412.2,705.3L414.2,710.0L416.2,706.5L418.2,706.8L420.2,706.7L422.3,699.9L424.3,700.6L426.3,703.5L428.3,702.9L430.4,702.9L432.4,698.0L434.4,707.5L436.5,698.4L438.5,702.7L440.5,696.5L442.5,708.7L444.5,700.3L446.5,694.0L448.5,697.7L450.5,703.0L452.5,698.4L454.5,702.7L456.5,698.1L458.5,707.2L460.4,695.7L462.4,695.5L464.4,695.3L466.4,696.8L468.4,696.9L470.4,695.8L472.4,694.5L474.4,708.9L476.4,692.9L478.4,700.7L480.4,698.6L482.4,692.7L484.4,692.1L486.4,694.0L488.4,693.0L490.3,690.1L492.3,696.9L494.3,691.3L496.3,691.4L498.3,689.4L500.3,691.5L502.3,690.8L504.3,688.2L506.4,684.3L508.6,696.1L510.7,689.2L512.9,689.6L515.1,690.8L517.3,692.8L519.5,685.8L521.8,688.7L524.0,687.1L526.2,688.7L528.4,683.5L530.6,687.9L532.8,685.0L535.0,684.9L537.1,688.3L539.2,696.5L541.3,687.4L543.3,689.0L545.2,689.7L547.2,687.5L549.0,688.2L550.8,683.7L552.5,682.9L554.2,688.5L555.8,681.8L557.3,684.6L559.7,686.8L562.6,683.9L564.9,685.8L566.8,682.2L568.4,686.5L569.9,688.5L571.3,684.9L572.7,689.4L574.3,696.1L576.3,688.8L578.6,690.3L580.8,686.6L582.5,690.8L584.3,690.8L586.1,690.4L588.1,689.0L590.2,685.8L592.3,691.2L594.4,687.7L596.6,685.4L598.9,689.1L601.1,683.7L603.3,690.6L605.6,691.7L607.8,689.4L610.0,697.3L612.1,694.2L614.2,693.8L616.2,692.2L618.2,692.8L620.0,703.2L621.8,692.4L624.3,690.4L626.7,683.1L628.9,691.2L631.1,687.8L633.2,691.6L635.2,695.6L637.1,693.7L639.0,692.1L640.9,690.0L642.8,696.2L644.7,692.3L646.7,699.5L648.7,690.5L650.7,691.1L652.8,691.2L655.0,689.3L657.1,690.8L659.3,697.0L661.4,688.4L663.6,694.8L665.7,692.2L667.8,703.1L669.8,692.4L671.9,688.4L673.8,692.9L675.8,692.6L677.6,697.5L679.9,692.6L682.1,691.8L684.2,691.8L686.2,689.9L688.2,692.1L690.1,701.5L692.0,691.8L693.9,693.5L695.7,698.4L697.6,698.6L699.3,697.9L701.0,695.6L702.6,701.1L704.3,699.8L706.0,699.7L707.6,705.2L709.2,707.9L710.7,707.5L712.2,711.4L713.6,711.3L714.9,710.1L716.1,714.0L717.1,715.4L718.0,718.0L718.7,720.8L719.4,719.3L719.9,727.1L720.4,726.4L720.8,724.7L721.3,733.7L721.7,736.4L722.2,733.9L722.7,734.7L723.3,739.3L724.3,735.7L725.7,736.4L727.3,745.9L728.9,748.6L730.5,747.8L732.0,745.9L733.3,752.8L734.1,743.4L734.7,751.9L735.4,747.5L735.9,756.3L736.5,752.9L737.0,758.6L737.5,768.6L738.1,758.2L738.6,762.3L739.2,765.3L739.7,767.4L740.2,766.1L740.7,779.3L741.2,773.0L741.7,775.9L742.3,778.1L742.8,782.9L743.3,778.9L743.9,785.2L744.5,787.3L744.5,785.5L750.8,810.0L754.9,833.1L757.3,851.4L758.8,873.2L759.7,881.0L763.4,900.7L765.4,913.1L773.8,972.3L780.9,1025.7L788.0,1070.8L793.1,1098.0L797.0,1114.4L799.5,1122.5L801.7,1127.8L803.2,1130.2L804.2,1130.9L804.8,1130.9L806.2,1129.9L808.1,1126.7L812.3,1115.7L818.1,1097.4L821.8,1082.0L823.7,1071.2L825.6,1057.3L832.2,998.1L835.0,982.1L838.4,967.1L839.3,963.7L840.4,961.5L841.7,960.3L845.7,958.3L846.9,957.1L848.2,954.6L852.5,943.3L855.6,930.8L857.2,921.8L858.4,911.5L863.7,851.6L865.6,833.5L869.3,805.9L870.9,797.5L872.6,791.0L874.6,786.0L877.0,782.3L885.5,774.0L892.6,765.9L896.8,760.0L899.9,754.0L906.3,739.5L912.5,727.5L919.7,714.6L927.6,702.3L931.2,697.5L935.1,693.0L940.6,688.2L945.1,684.9L952.1,681.1L964.2,675.6L1019.0,653.9L1024.4,651.5L1029.9,648.4L1032.1,647.6L1042.4,645.7L1061.6,643.4L1090.9,640.9L1113.2,639.4L1176.1,636.8L1208.6,635.9L1279.9,636.2L1305.2,636.9L1317.4,638.3L1333.1,641.2L1341.8,642.3L1345.6,643.2L1354.4,646.2L1381.0,657.9L1386.9,660.1L1392.4,661.7L1397.4,662.4L1402.9,662.6L1407.9,661.9L1412.7,660.7L1420.1,658.1L1431.9,653.2L1439.9,649.2L1447.8,644.5L1457.0,638.0L1466.0,631.0L1474.3,623.6L1481.8,616.1L1487.8,609.3L1494.6,600.8L1509.2,580.6L1515.8,570.5L1520.8,562.2L1545.2,517.7L1547.1,514.9L1549.5,512.2L1551.9,510.2L1554.6,508.4L1556.5,507.6L1559.5,506.8L1564.4,506.8L1568.0,507.8L1576.9,511.5L1581.0,512.8L1585.8,513.9L1592.4,514.8L1606.1,515.4L1627.5,514.0L1641.4,514.3L1655.8,515.9L1700.5,521.9L1738.8,526.0L1757.9,527.2L1765.4,527.2L1772.4,526.8L1786.0,524.9L1799.4,521.5L1820.3,514.8L1831.3,510.9L1843.7,505.9L1865.7,496.5L1873.6,492.8L1895.7,479.9L1903.5,474.9L1905.7,472.8L1906.5,471.2L1906.5,468.0L1905.0,475.0L1905.3,476.2L1906.2,476.6L1908.0,476.0L1912.3,473.3L1925.2,463.5L1942.5,449.2L1959.8,433.8L1974.7,419.7L1985.8,408.0L1995.8,396.1L2007.4,380.3L2014.4,369.6L2025.7,350.9" stroke="#8000ff"/><path d="M342.0,723.8L343.0,725.3L344.1,716.7L345.3,715.1L346.5,712.6L347.8,715.3L349.1,720.3L350.6,714.8L352.0,720.0L353.5,712.3L355.1,715.6L356.8,713.8L358.4,710.7L360.2,714.6L362.0,717.3L363.8,709.7L365.6,709.5L367.5,710.5L369.5,709.4L371.5,705.5L373.5,709.9L375.5,715.1L377.6,706.8L379.7,703.1L381.8,707.7L384.0,708.0L386.2,710.3L388.4,707.9L390.6,711.0L392.8,706.5L395.1,702.9L397.4,705.0L399.6,704.6L401.9,705.0L404.2,704.1L406.5,702.1L408.8,705.2L411.1,701.6L413.4,699.6L415.7,701.0L418.0,697.7L420.3,704.5L422.6,701.0L424.8,700.2L427.1,695.2L429.3,701.0L431.6,698.7L433.8,698.6L435.9,701.6L438.1,700.5L440.3,696.3L442.4,695.2L444.4,697.9L446.5,694.7L448.4,693.8L450.4,694.6L452.4,699.4L454.5,693.8L456.5,694.9L458.6,694.6L460.7,690.8L462.8,692.8L465.0,700.2L467.2,693.9L469.3,691.2L471.5,690.9L473.8,695.3L476.0,693.5L478.2,689.9L480.5,688.7L482.7,696.3L485.0,686.5L487.2,688.9L489.5,684.2L491.7,687.8L494.0,690.7L496.2,691.6L498.5,686.3L500.7,690.8L503.0,686.2L505.2,687.5L507.4,688.4L509.6,685.7L511.8,687.6L514.0,683.9L516.1,681.3L518.2,683.8L520.3,683.9L522.4,681.1L524.5,691.3L526.5,692.1L528.5,686.2L530.5,683.0L532.5,687.2L534.4,685.0L536.3,681.9L538.1,683.9L539.9,679.6L541.7,679.6L543.4,680.3L545.1,682.8L546.7,680.2L548.3,686.4L549.8,688.3L551.3,681.3L552.8,680.7L554.2,691.8L555.5,678.6L556.8,688.6L558.0,679.5L563.2,679.3L567.0,678.4L569.5,679.3L571.2,677.0L572.1,678.6L572.8,688.6L573.3,679.3L574.0,681.2L575.2,681.7L577.1,682.2L580.0,685.8L581.5,684.0L583.0,680.8L584.7,677.5L586.4,683.7L588.3,679.2L590.2,687.9L592.2,684.1L594.2,680.8L596.3,691.0L598.4,679.8L600.6,680.9L602.8,678.8L605.0,680.7L607.2,685.2L609.5,682.8L611.7,681.5L614.0,683.1L616.2,686.2L618.5,686.5L620.7,679.3L622.9,683.1L625.0,680.9L627.1,683.9L629.1,691.3L631.1,686.2L633.1,683.1L634.9,694.8L637.0,686.3L639.3,694.8L641.6,683.0L643.9,695.9L646.2,688.4L648.4,686.6L650.6,683.0L652.7,689.9L654.8,687.0L656.9,687.7L659.0,684.0L661.0,689.3L662.9,687.8L664.9,687.2L666.8,686.8L668.7,687.6L670.5,685.6L672.4,689.3L674.1,688.4L675.9,684.3L677.6,687.6L680.1,692.0L682.4,685.7L684.8,689.6L687.0,687.5L689.2,691.4L691.3,687.7L693.3,688.4L695.3,687.0L697.1,697.4L699.0,693.7L700.7,692.9L702.4,690.3L704.0,690.6L705.5,692.5L708.1,693.2L710.3,691.5L712.2,699.6L713.9,700.8L715.5,695.1L717.0,698.7L718.6,705.7L720.3,701.6L722.0,702.1L723.7,700.8L725.4,697.7L726.9,705.2L728.4,707.0L729.9,706.9L731.1,708.0L732.1,711.2L733.0,719.7L733.9,712.1L734.7,717.5L735.5,718.8L736.4,719.9L737.2,722.3L738.0,726.0L738.9,728.3L740.1,732.2L741.4,730.8L742.7,729.5L744.0,732.6L745.2,733.8L746.3,738.4L747.3,736.1L747.9,742.5L748.4,741.0L748.8,744.0L749.2,748.8L749.6,747.4L749.9,750.9L750.3,752.6L750.7,756.9L751.2,755.0L751.5,759.7L751.5,757.6L764.9,811.3L768.8,828.8L770.8,840.0L772.3,852.7L776.0,900.6L777.5,916.7L784.5,970.0L790.6,1024.2L793.4,1044.3L795.5,1055.3L803.4,1091.9L804.3,1094.0L805.6,1095.5L807.0,1096.0L808.7,1095.7L811.4,1093.7L814.7,1089.1L817.2,1083.2L819.4,1075.4L822.6,1058.6L828.8,1011.8L830.3,1004.3L831.5,1000.5L833.3,996.9L835.6,994.4L838.1,993.4L846.8,991.7L848.5,990.7L850.5,987.9L852.0,983.6L854.7,967.4L858.8,933.9L864.3,878.3L869.4,836.3L871.2,824.5L873.3,813.4L875.7,803.3L877.8,795.9L879.8,790.7L882.0,786.1L892.9,770.1L896.1,763.9L903.6,747.9L909.7,736.1L916.8,723.3L926.0,708.2L931.1,700.5L935.4,695.1L940.7,689.9L946.0,685.9L953.2,682.1L966.7,676.0L1019.9,655.0L1025.4,652.3L1029.9,649.3L1033.1,648.0L1042.4,646.1L1058.4,644.0L1082.4,641.6L1105.1,639.8L1172.0,636.9L1206.5,636.0L1253.5,635.9L1287.2,636.3L1303.4,636.8L1317.4,638.2L1345.6,642.9L1354.5,645.5L1380.6,655.3L1386.8,657.2L1392.4,658.5L1397.4,659.1L1402.9,659.2L1407.9,658.5L1412.7,657.3L1426.7,652.3L1434.9,649.0L1443.0,644.9L1451.2,640.0L1459.3,634.1L1468.3,626.6L1476.6,618.8L1485.3,609.4L1492.9,600.4L1501.2,589.8L1508.5,579.5L1515.2,569.1L1524.6,552.2L1536.3,528.0L1539.2,520.7L1542.1,510.0L1543.4,507.0L1544.9,504.9L1546.9,502.8L1549.4,500.9L1553.0,498.7L1558.8,496.6L1561.7,496.1L1564.6,496.2L1569.3,497.5L1578.0,501.7L1582.0,503.3L1589.1,505.3L1595.8,506.7L1608.6,508.2L1635.6,509.6L1649.8,510.9L1662.1,512.9L1700.2,520.3L1735.0,525.5L1754.8,527.6L1769.2,528.0L1775.7,527.6L1783.0,526.7L1796.6,524.0L1817.4,518.0L1830.1,513.9L1844.0,508.8L1878.5,494.9L1887.9,490.7L1896.0,486.4L1904.5,481.1L1915.1,473.8L1926.9,465.0L1943.3,452.0L1957.6,439.6L1974.0,424.1L1989.0,408.7L1999.0,397.4L2008.0,385.9L2015.3,375.2L2025.7,358.5" stroke="#800080"/><path d="M342.0,708.8L343.1,710.3L344.5,711.5L346.1,709.4L347.9,710.6L349.9,707.8L352.1,705.8L354.3,708.3L356.7,708.5L359.1,707.7L361.5,706.3L364.0,704.1L366.5,704.5L368.9,706.7L371.3,705.1L373.5,704.2L375.7,703.5L377.7,701.9L379.5,703.8L381.2,706.4L382.6,702.6L383.8,701.4L386.7,698.7L386.1,706.5L386.2,706.9L386.3,709.0L386.5,712.7L386.6,713.1L386.7,718.1L386.9,720.3L387.0,722.4L387.1,724.4L387.3,727.8L387.4,730.3L387.5,733.0L387.7,734.6L387.8,733.8L387.9,734.6L388.1,732.8L388.2,733.0L388.3,734.6L388.4,730.1L388.5,736.8L388.5,727.1L388.6,723.7L388.7,722.4L388.8,721.0L389.0,717.7L389.2,716.6L389.4,712.1L389.7,709.3L390.0,706.9L390.5,705.7L390.6,707.0L390.9,702.5L391.9,699.1L394.0,705.5L397.7,696.6L398.9,701.4L400.3,697.8L401.8,697.0L403.4,697.7L405.1,695.5L406.9,696.4L408.9,697.1L410.8,696.1L412.9,692.6L415.0,695.3L417.2,695.0L419.4,693.5L421.7,695.1L423.9,696.5L426.2,694.3L428.5,694.9L430.7,692.9L433.0,692.8L435.2,690.9L437.4,691.5L439.5,693.5L441.6,696.8L443.6,692.6L445.6,689.6L447.6,691.0L449.7,689.8L451.8,689.0L453.9,691.7L455.9,688.4L457.9,687.0L460.0,690.1L461.9,688.4L463.9,687.6L465.9,689.7L467.8,686.8L469.8,685.8L471.7,685.0L473.7,683.8L475.6,684.1L477.5,683.8L479.5,687.3L481.4,683.9L483.4,683.3L485.3,682.6L487.3,686.8L489.3,681.5L491.3,681.1L493.3,682.3L495.3,681.2L497.3,681.5L499.3,681.8L501.3,679.9L503.3,678.3L505.3,679.2L507.3,679.0L509.2,680.6L511.2,678.8L513.2,678.1L515.2,679.0L517.2,678.0L519.2,677.4L521.2,677.6L523.2,678.1L525.2,672.7L527.2,679.1L529.2,674.8L531.2,677.0L533.3,676.4L535.5,674.1L537.8,675.3L540.0,675.4L542.3,676.1L544.6,673.3L546.9,673.9L549.2,674.0L551.5,675.1L553.8,673.6L556.0,671.9L558.1,673.0L560.2,675.2L562.2,675.5L564.2,671.9L566.0,673.3L567.7,673.6L569.3,674.2L570.7,672.3L572.0,675.1L575.6,674.5L576.0,673.6L576.4,676.5L580.0,674.2L581.3,674.5L582.8,673.0L584.4,672.7L586.2,675.5L588.2,675.7L590.2,673.3L592.3,675.3L594.5,680.0L596.8,676.5L599.1,675.4L601.4,672.3L603.8,673.8L606.1,674.8L608.4,674.1L610.7,675.3L612.9,672.4L615.1,675.6L617.1,674.3L619.1,671.7L620.9,674.4L623.1,675.7L625.5,674.6L627.8,676.1L630.1,677.4L632.2,673.8L634.2,676.4L636.2,674.8L638.2,671.2L640.1,670.9L642.0,674.4L643.9,673.7L645.8,674.3L647.7,669.9L649.7,675.6L651.8,673.2L654.0,674.1L656.3,674.3L658.6,674.7L660.9,676.5L663.1,673.6L665.4,674.1L667.5,672.8L669.5,675.0L671.4,673.2L673.2,673.9L674.8,672.2L676.2,673.9L678.1,677.6L679.4,679.9L680.3,680.8L681.0,685.3L681.5,685.5L682.0,687.3L682.7,689.0L683.8,691.3L685.0,693.3L686.3,686.1L687.6,688.1L689.0,680.5L690.6,679.4L692.3,680.5L693.9,681.3L695.7,680.3L697.7,688.7L699.6,682.4L701.6,685.0L703.6,685.9L705.5,685.3L707.6,688.3L709.6,686.0L711.5,688.4L713.5,683.1L715.7,685.7L718.1,687.3L720.2,685.9L721.9,691.3L723.7,688.9L725.6,688.2L727.6,692.3L729.6,693.1L731.6,693.6L733.6,693.0L735.5,695.1L737.2,696.6L738.9,695.9L740.3,696.0L741.7,697.0L743.0,702.3L744.2,702.6L745.2,707.9L746.2,705.5L747.0,711.8L747.8,710.1L748.6,712.5L749.3,715.8L750.1,716.7L750.8,717.5L751.4,719.2L751.9,720.9L752.4,724.1L752.9,727.2L753.3,727.6L753.8,727.5L754.3,731.9L754.8,732.0L755.4,735.1L755.7,736.8L755.7,736.7L762.6,753.8L766.0,763.5L767.8,769.7L769.5,777.8L770.9,788.0L775.1,826.7L776.7,835.7L779.9,850.7L781.1,858.3L781.8,867.1L783.9,906.8L785.9,925.3L808.1,1061.3L809.0,1065.6L810.0,1068.4L811.3,1069.9L812.8,1070.2L813.7,1069.9L815.2,1068.7L816.8,1066.3L821.0,1053.4L825.8,1034.7L831.0,1007.0L832.6,1000.9L833.4,1000.0L833.9,999.9L835.2,1000.6L842.0,1009.9L844.2,1011.8L845.4,1012.1L846.9,1011.4L848.2,1009.5L849.7,1005.5L851.0,1000.6L852.8,990.8L855.4,973.0L863.2,908.4L866.3,873.5L867.4,846.9L868.2,836.7L869.3,829.4L871.2,820.8L873.4,812.8L876.0,804.5L878.4,798.7L881.0,793.5L896.3,768.4L898.8,763.0L904.7,747.8L908.2,740.1L915.6,726.2L923.0,713.9L929.9,703.6L935.8,696.9L943.2,690.5L953.3,684.0L960.6,680.0L967.7,676.8L1018.5,657.1L1022.8,655.0L1028.9,650.9L1034.0,648.9L1044.0,646.7L1061.6,644.1L1085.6,641.4L1105.1,639.8L1173.1,636.9L1206.5,636.0L1249.6,635.9L1285.2,636.3L1301.6,636.7L1315.2,637.9L1333.1,640.8L1342.6,641.6L1346.8,642.3L1354.6,644.4L1380.3,652.9L1386.6,654.6L1392.3,655.8L1397.4,656.3L1402.9,656.2L1407.9,655.6L1412.7,654.4L1427.6,649.2L1436.7,645.5L1444.8,641.5L1452.9,636.5L1460.6,630.6L1469.4,622.8L1479.0,613.2L1489.1,601.8L1497.4,592.1L1504.3,583.2L1510.2,574.8L1515.2,567.0L1519.6,558.8L1524.4,549.0L1546.4,499.0L1548.0,496.2L1550.3,493.3L1553.7,490.4L1556.4,488.8L1560.1,487.6L1562.8,487.2L1565.7,487.4L1568.6,488.2L1572.4,490.2L1576.0,492.5L1585.6,500.5L1590.5,503.8L1596.4,506.4L1602.8,507.6L1609.2,508.2L1628.4,508.4L1640.5,509.5L1652.9,511.4L1690.1,518.2L1706.5,520.9L1742.4,525.9L1768.6,528.7L1781.4,529.3L1791.4,529.0L1807.2,527.0L1820.8,524.3L1829.6,521.8L1838.3,518.8L1847.3,515.0L1858.7,509.6L1869.8,504.0L1882.7,496.5L1902.8,486.1L1909.6,482.1L1916.1,477.7L1926.1,469.3L1938.2,457.3L1958.6,435.5L1974.4,416.6L1979.2,411.8L1981.3,410.8L1982.4,411.7L1983.1,415.2L1983.3,424.9L1983.9,425.7L1985.2,424.9L1986.9,422.8L1992.0,414.4L1994.0,411.7L1996.7,409.2L2003.2,404.0L2006.7,400.3L2013.5,391.2L2025.7,373.7" stroke="#800000"/></g>
<text transform="translate(1695.0,684.0) scale(1,1)" font-size="40">10</text><text transform="translate(1884.4,707.5) scale(1,1)" font-size="40">9</text><text transform="translate(1576.2,790.5) scale(1,1)" font-size="40">8</text><text transform="translate(1879.8,791.0) scale(1,1)" font-size="40">7</text><text transform="translate(1516.1,878.0) scale(1,1)" font-size="40">6</text><text transform="translate(1710.1,917.5) scale(1,1)" font-size="40">5</text><text transform="translate(1701.5,982.0) scale(1,1)" font-size="40">4</text><text transform="translate(1706.7,1075.0) scale(1,1)" font-size="40">3</text><text transform="translate(1655.3,1219.0) scale(1,1)" font-size="40">2</text><text transform="translate(1585.8,1378.0) scale(1,1)" font-size="40">1</text><text transform="translate(1574.8,1562.5) scale(1,1)" font-size="40">0</text>
<g stroke="#000" stroke-width="2.4"><line x1="1723.8" y1="695.2" x2="1725.5" y2="789.5"/><line x1="1874.4" y1="703" x2="1746.8" y2="803"/><line x1="1609.5" y1="789" x2="1706.3" y2="812.8"/><line x1="1864.5" y1="792.9" x2="1745.7" y2="842.4"/><line x1="1546.5" y1="876.4" x2="1685.5" y2="892.7"/></g>
<rect x="150" y="0" width="160" height="47" fill="#fff"/>
</svg></body></html>
